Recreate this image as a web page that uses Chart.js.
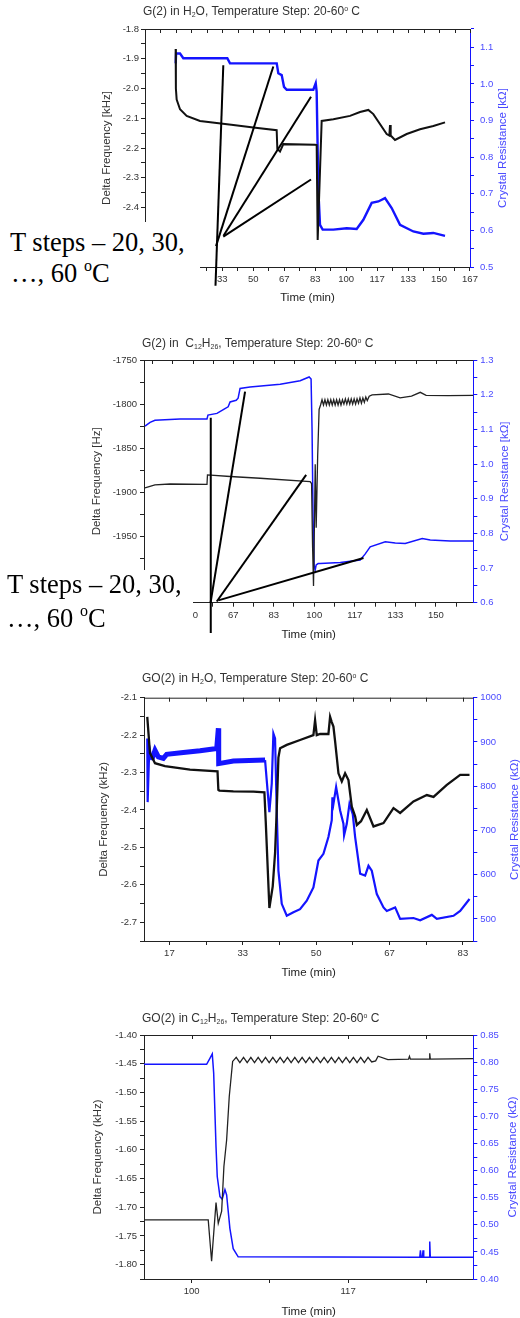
<!DOCTYPE html>
<html>
<head>
<meta charset="utf-8">
<title>QCM temperature steps</title>
<script src="https://cdn.jsdelivr.net/npm/chart.js@4.4.1/dist/chart.umd.min.js"></script>
<style>
  body { margin: 0; background: #fff; }
  #page { position: relative; width: 520px; height: 1318px; overflow: hidden; font-family: "Liberation Sans", Arial, sans-serif; }
  .panel { position: absolute; left: 0; width: 520px; }
  .title { position: absolute; font-size: 12px; line-height: 14px; color: #333; white-space: nowrap; }
  .title sub { font-size: 7px; vertical-align: -2px; line-height: 0; }
  .title sup { font-size: 7px; vertical-align: 4px; line-height: 0; }
  .mask { position: absolute; left: 0; background: #fff; z-index: 2; }
  .note { position: absolute; z-index: 3; font-family: "Liberation Serif", "Times New Roman", serif; font-size: 26.5px; line-height: 26px; color: #000; white-space: nowrap; }
  .note sup { font-size: 16px; vertical-align: 11px; line-height: 0; }
</style>
</head>
<body>
<div id="page">
  <div class="panel" style="top:0;height:320px"><canvas id="g1"></canvas></div>
  <div class="panel" style="top:320px;height:330px"><canvas id="g2"></canvas></div>
  <div class="panel" style="top:650px;height:335px"><canvas id="g3"></canvas></div>
  <div class="panel" style="top:985px;height:333px"><canvas id="g4"></canvas></div>

  <div class="title" style="left:143px;top:4px">G(2) in H<sub>2</sub>O, Temperature Step: 20-60<sup>o</sup> C</div>
  <div class="title" style="left:142px;top:336px">G(2) in &nbsp;C<sub>12</sub>H<sub>26</sub>, Temperature Step: 20-60<sup>o</sup> C</div>
  <div class="title" style="left:142px;top:671px">GO(2) in H<sub>2</sub>O, Temperature Step: 20-60<sup>o</sup> C</div>
  <div class="title" style="left:142px;top:1011px">GO(2) in C<sub>12</sub>H<sub>26</sub>, Temperature Step: 20-60<sup>o</sup> C</div>

  <div class="mask" style="top:222px;width:200px;height:70px"></div>
  <div class="note" style="left:10px;top:229px">T steps – 20, 30,</div>
  <div class="note" style="left:11px;top:260px">…, 60 <sup>o</sup>C</div>

  <div class="mask" style="top:570px;width:193px;height:75px"></div>
  <div class="note" style="left:7px;top:571px">T steps – 20, 30,</div>
  <div class="note" style="left:7px;top:605px">…, 60 <sup>o</sup>C</div>
</div>

<script>
// ---- G(2) in H2O ----
const g1FreqTime = [8.18, 8.3, 8.72, 10.52, 14.11, 21.29, 39.24, 50.01, 62.57, 62.93, 64.37, 66.16, 83.21, 84.11, 84.65, 86.8, 93.08, 102.06, 107.44, 111.93, 114.62, 121.8, 123.24, 123.6, 123.96, 126.3, 132.58, 139.76, 146.93, 153.22];
const g1Freq = [-1.867, -2.0, -2.037, -2.07, -2.092, -2.109, -2.123, -2.131, -2.14, -2.203, -2.212, -2.187, -2.189, -2.19, -2.509, -2.109, -2.103, -2.092, -2.079, -2.072, -2.086, -2.153, -2.158, -2.123, -2.158, -2.173, -2.153, -2.137, -2.126, -2.114];
const g1ResTime = [8.2, 8.4, 10.52, 12.3, 36.0, 37.44, 62.6, 63.45, 65.28, 66.52, 67.98, 82.3, 83.6, 84.1, 84.65, 85.0, 85.9, 87.34, 93.08, 100.27, 105.65, 109.24, 113.73, 117.32, 120.91, 124.5, 128.99, 136.17, 141.55, 146.93, 153.22];
const g1Res = [1.056, 1.083, 1.083, 1.07, 1.07, 1.056, 1.056, 1.029, 1.024, 0.992, 0.984, 0.984, 1.002, 0.979, 0.82, 0.711, 0.615, 0.602, 0.602, 0.606, 0.604, 0.629, 0.675, 0.679, 0.688, 0.661, 0.615, 0.597, 0.591, 0.593, 0.585];
const g1StepTime = [[33.83, 29.63], [60.76, 29.9], [81.06, 33.94], [81.06, 33.83]];
const g1StepFreq = [[-1.922, -2.663], [-1.926, -2.53], [-2.028, -2.495], [-2.306, -2.498]];
const g1TimeTicks = [0, 16.667, 33.333, 50, 66.667, 83.333, 100, 116.667, 133.333, 150, 166.667];
const g1FreqTicks = [-1.8, -1.9, -2.0, -2.1, -2.2, -2.3, -2.4, -2.5, -2.6];
const g1ResTicks = [0.5, 0.6, 0.7, 0.8, 0.9, 1.0, 1.1];

// ---- G(2) in C12H26 ----
const g2FreqTime = [30.4, 34.5, 40.7, 55.9, 56.1, 65.4, 77.7, 98.3, 98.9, 99.3, 99.7, 99.96, 100.4, 100.8, 101.4, 102.0,
  102.6, 103.2, 103.8, 104.4, 105.0, 105.6, 106.2, 106.8, 107.4, 108.0, 108.6, 109.2, 109.8, 110.4, 111.0, 111.6, 112.2,
  112.8, 113.4, 114.0, 114.6, 115.2, 115.8, 116.4, 117.0, 117.6, 118.2, 118.8, 119.4, 120.0, 120.6, 121.2, 121.8,
  122.6, 123.8, 130.5, 135.3, 140.0, 143.6, 146.0, 155.0, 165.4];
const g2Freq = [-1895, -1891.6, -1890.5, -1891, -1880.2, -1882, -1884, -1887.7, -1890, -1960, -2006, -1960, -1868, -1940, -1860, -1806,
  -1801, -1795, -1801, -1795, -1801, -1795, -1801, -1795, -1801, -1795, -1801, -1795, -1801, -1795, -1801, -1795, -1800,
  -1794, -1800, -1794, -1800, -1794, -1800, -1794, -1800, -1794, -1799, -1793, -1799, -1793, -1798, -1792, -1796,
  -1791, -1789.5, -1788.5, -1793, -1791, -1786.6, -1790, -1790.4, -1790];
const g2ResTime = [30.4, 32.5, 34.5, 44.8, 55.9, 56.3, 60.0, 63.3, 64.6, 65.4, 67.9, 68.7, 69.5, 73.6, 86.0, 94.2, 97.9, 98.7, 99.1, 99.5, 99.96, 100.4, 100.8, 101.6, 102.4, 110.7, 118.9, 120.9, 123.0, 129.2, 133.3, 137.4, 144.4, 147.7, 155.9, 165.4];
const g2Res = [1.109, 1.12, 1.126, 1.13, 1.13, 1.141, 1.146, 1.16, 1.165, 1.179, 1.184, 1.19, 1.218, 1.222, 1.23, 1.24, 1.251, 1.245, 1.10, 0.85, 0.708, 0.694, 0.709, 0.713, 0.713, 0.716, 0.723, 0.74, 0.761, 0.776, 0.772, 0.771, 0.785, 0.781, 0.778, 0.778];
const g2StepTime = [[57.45, 57.45], [71.56, 57.37], [96.67, 59.92], [120.25, 60.58]];
const g2StepFreq = [[-1815.3, -2059.3], [-1785.9, -2025], [-1880.2, -2023.6], [-1974.4, -2022.4]];
const g2TimeTicks = [33.333, 50, 66.667, 83.333, 100, 116.667, 133.333, 150];
const g2FreqTicks = [-1750, -1800, -1850, -1900, -1950, -2000];
const g2ResTicks = [0.6, 0.7, 0.8, 0.9, 1.0, 1.1, 1.2, 1.3];

// ---- GO(2) in H2O ----
const g3FreqTime = [11.64, 12.26, 13.4, 15.67, 21.35, 27.6, 27.79, 28.02, 31.2, 35.75, 38.25, 38.55, 39.38, 40.14, 40.67, 41.05, 41.43, 41.81, 43.33, 46.35, 49.38, 49.76, 50.14, 50.9, 52.79, 53.17, 53.55, 53.93, 54.31, 55.07, 55.83, 56.58, 57.34, 58.1, 58.86, 59.24, 60.2, 61.51, 63.03, 65.3, 67.57, 69.08, 72.11, 75.14, 76.66, 79.69, 82.72, 84.84];
const g3Freq = [-2.151, -2.248, -2.275, -2.283, -2.292, -2.297, -2.346, -2.348, -2.35, -2.351, -2.353, -2.43, -2.662, -2.604, -2.515, -2.4, -2.26, -2.235, -2.226, -2.213, -2.2, -2.16, -2.2, -2.197, -2.197, -2.151, -2.165, -2.177, -2.217, -2.302, -2.324, -2.302, -2.32, -2.391, -2.417, -2.44, -2.43, -2.4, -2.444, -2.435, -2.395, -2.408, -2.377, -2.36, -2.365, -2.333, -2.306, -2.306];
const g3ResTime = [11.64, 11.73, 12.11, 12.64, 13.4, 14.16, 15.29, 16.05, 19.84, 23.63, 27.42, 27.79, 27.87, 31.2, 38.4, 38.78, 39.38, 39.92, 40.29, 40.67, 41.05, 41.43, 42.19, 43.33, 44.84, 46.35, 47.87, 49.38, 50.52, 51.66, 52.79, 53.55, 53.7, 53.93, 54.54, 55.45, 56.2, 56.35, 56.96, 57.57, 58.32, 58.86, 60.0, 61.13, 61.89, 62.64, 63.78, 65.3, 66.05, 67.95, 69.08, 72.11, 73.63, 76.28, 77.42, 81.2, 82.72, 84.84];
const g3Res = [908, 764, 889, 859, 881, 866, 863, 872, 876, 880, 885, 931, 851, 857, 859, 813, 741, 806, 919, 908, 745, 609, 534, 507, 515, 522, 541, 571, 632, 647, 685, 723, 775, 760, 798, 745, 715, 689, 715, 760, 737, 685, 602, 598, 620, 609, 556, 526, 518, 526, 500, 502, 497, 509, 500, 507, 518, 545];
const g3TimeTicks = [16.667, 33.333, 50, 66.667, 83.333];
const g3FreqTicks = [-2.1, -2.2, -2.3, -2.4, -2.5, -2.6, -2.7];
const g3ResTicks = [500, 600, 700, 800, 900, 1000];

// ---- GO(2) in C12H26 ----
const g4FreqTime = [94.93, 101.77, 102.13, 102.6, 102.84, 103.2, 103.44, 103.73, 104.01, 104.37,
  104.75, 105.14, 105.53, 105.92, 106.31, 106.7, 107.09, 107.48, 107.87, 108.26, 108.65, 109.04, 109.43, 109.82,
  110.21, 110.6, 110.99, 111.38, 111.77, 112.16, 112.55, 112.94, 113.33, 113.72, 114.11, 114.5, 114.89, 115.28,
  115.67, 116.06, 116.45, 116.84, 117.23, 117.62, 118.01, 118.4, 118.79, 119.18,
  119.6, 119.86, 120.9, 123.1, 123.2, 123.3, 125.3, 125.36, 125.42, 130];
const g4Freq = [-1.722, -1.722, -1.794, -1.692, -1.728, -1.707, -1.629, -1.583, -1.507, -1.446,
  -1.439, -1.448, -1.439, -1.448, -1.439, -1.448, -1.439, -1.448, -1.439, -1.448, -1.439, -1.448, -1.439, -1.448,
  -1.439, -1.448, -1.439, -1.448, -1.439, -1.448, -1.439, -1.448, -1.439, -1.448, -1.439, -1.448, -1.439, -1.448,
  -1.439, -1.448, -1.439, -1.448, -1.439, -1.448, -1.439, -1.448, -1.439, -1.447,
  -1.445, -1.437, -1.443, -1.442, -1.437, -1.442, -1.442, -1.432, -1.442, -1.441];
const g4ResTime = [94.93, 101.6, 101.95, 102.2, 102.35, 102.6, 102.73, 103.02, 103.26, 103.55, 103.73, 104.08, 104.43, 104.96, 124.3, 124.37, 124.44, 124.58, 124.65, 124.72, 125.3, 125.36, 125.42, 130];
const g4Res = [0.796, 0.796, 0.807, 0.815, 0.78, 0.644, 0.589, 0.552, 0.547, 0.565, 0.555, 0.493, 0.456, 0.441, 0.44, 0.453, 0.44, 0.44, 0.453, 0.44, 0.44, 0.469, 0.44, 0.44];
const g4TimeTicks = [100, 116.667];
const g4FreqTicks = [-1.40, -1.45, -1.50, -1.55, -1.60, -1.65, -1.70, -1.75, -1.80];
const g4ResTicks = [0.40, 0.45, 0.50, 0.55, 0.60, 0.65, 0.70, 0.75, 0.80, 0.85];

Chart.defaults.font.family = '"Liberation Sans", Arial, sans-serif';
Chart.defaults.color = '#333';

const BLUE = '#1414ff';
const BLUE_TEXT = '#4a4aff';
const INK = '#222';

const toPoints = (xs, ys) => xs.map((x, i) => ({ x: x, y: ys[i] }));

// majors plus one minor tick halfway between them, kept inside the axis range
function withMinor(majors, min, max) {
  const step = majors.length > 1 ? majors[1] - majors[0] : 1;
  const out = [majors[0] - step / 2];
  majors.forEach((m, i) => {
    out.push(m);
    out.push(i < majors.length - 1 ? (m + majors[i + 1]) / 2 : m + step / 2);
  });
  const lo = Math.min(min, max), hi = Math.max(min, max);
  return out.filter(v => v >= lo - 1e-6 && v <= hi + 1e-6);
}

function lineSet(points, axis, color, width, order) {
  return { data: points, yAxisID: axis, borderColor: color, borderWidth: width,
    pointRadius: 0, tension: 0, fill: false, order: order };
}

function stepLines(times, freqs) {
  return times.map((t, i) => ({ data: toPoints(t, freqs[i]), yAxisID: 'y', borderColor: '#000',
    borderWidth: 2, pointRadius: 0, tension: 0, clip: false, order: 0 }));
}

// right axis title reads bottom-to-top like the left one
const sideTitle = {
  id: 'sideTitle',
  afterDraw(chart, args, opts) {
    const { ctx, chartArea } = chart;
    ctx.save();
    ctx.translate(opts.x, (chartArea.top + chartArea.bottom) / 2);
    ctx.rotate(-Math.PI / 2);
    ctx.font = '11.5px "Liberation Sans", Arial, sans-serif';
    ctx.fillStyle = BLUE_TEXT;
    ctx.textAlign = 'center';
    ctx.textBaseline = 'middle';
    ctx.fillText(opts.text, 0, 0);
    ctx.restore();
  }
};

// closing top edge with inward ticks
const topFrame = {
  id: 'topFrame',
  afterDraw(chart) {
    const { ctx, chartArea: a, scales } = chart;
    ctx.save();
    ctx.strokeStyle = INK;
    ctx.lineWidth = 1;
    ctx.beginPath();
    ctx.moveTo(a.left, a.top + 0.5);
    ctx.lineTo(a.right, a.top + 0.5);
    scales.x.ticks.forEach(t => {
      const px = Math.round(scales.x.getPixelForValue(t.value)) + 0.5;
      ctx.moveTo(px, a.top);
      ctx.lineTo(px, a.top + 4);
    });
    ctx.stroke();
    ctx.restore();
  }
};

function axis(p, s) {
  const isMajor = v => s.majors.some(m => Math.abs(m - v) < 1e-6);
  return {
    type: 'linear',
    position: s.position,
    min: s.min,
    max: s.max,
    bounds: 'data',
    afterBuildTicks: sc => { sc.ticks = withMinor(s.majors, s.min, s.max).map(v => ({ value: v })); },
    afterFit: s.fit,
    ticks: {
      autoSkip: false, maxRotation: 0, padding: s.pad,
      color: s.color, font: { size: 9.5 },
      callback: v => isMajor(v) ? s.fmt(v) : ''
    },
    grid: { drawOnChartArea: false, drawTicks: true, tickLength: 4, tickColor: s.line },
    border: { display: true, color: s.line, width: 1 },
    title: s.title
  };
}

function panel(id, p) {
  return new Chart(document.getElementById(id), {
    type: 'line',
    data: { datasets: p.datasets },
    options: {
      responsive: true,
      maintainAspectRatio: false,
      animation: false,
      events: [],
      layout: { padding: { top: p.area.top, left: 0, right: 0, bottom: 0 } },
      plugins: {
        legend: { display: false },
        tooltip: { enabled: false },
        sideTitle: { text: p.rightTitle, x: p.rightTitleX }
      },
      scales: {
        x: axis(p, {
          position: 'bottom', min: p.x.min, max: p.x.max, majors: p.x.majors,
          fmt: v => String(Math.round(v)), pad: 3, color: '#333', line: INK,
          fit: sc => { sc.height = p.height - p.area.bottom; },
          title: { display: true, text: 'Time (min)', color: '#222', font: { size: 11.5, lineHeight: 1 },
            padding: { top: 0, bottom: p.xTitlePad } }
        }),
        y: axis(p, {
          position: 'left', min: p.y.min, max: p.y.max, majors: p.y.majors,
          fmt: p.y.fmt, pad: p.y.pad, color: '#333', line: INK,
          fit: sc => { sc.width = p.area.left; },
          title: { display: true, text: p.leftTitle, color: '#333', font: { size: 11.5, lineHeight: 1 },
            padding: { top: p.leftTitleX - 5.75, bottom: 0 } }
        }),
        y1: axis(p, {
          position: 'right', min: p.y1.min, max: p.y1.max, majors: p.y1.majors,
          fmt: p.y1.fmt, pad: p.y1.pad, color: BLUE_TEXT, line: BLUE,
          fit: sc => { sc.width = 520 - p.area.right; },
          title: { display: false }
        })
      }
    },
    plugins: [sideTitle, topFrame]
  });
}

panel('g1', {
  height: 320,
  area: { left: 145, right: 470, top: 29, bottom: 267 },
  x: { min: -8.33, max: 166.67, majors: g1TimeTicks },
  y: { min: -2.6, max: -1.8, majors: g1FreqTicks, fmt: v => v.toFixed(1), pad: 2 },
  y1: { min: 0.5, max: 1.15, majors: g1ResTicks, fmt: v => v.toFixed(1), pad: 6 },
  leftTitle: 'Delta Frequency [kHz]', leftTitleX: 107,
  rightTitle: 'Crystal Resistance [kΩ]', rightTitleX: 503,
  xTitlePad: 16,
  datasets: [
    ...stepLines(g1StepTime, g1StepFreq),
    lineSet(toPoints(g1FreqTime, g1Freq), 'y', '#111', 2, 1),
    lineSet(toPoints(g1ResTime, g1Res), 'y1', BLUE, 2.4, 2)
  ]
});

panel('g2', {
  height: 330,
  area: { left: 144, right: 473.3, top: 40, bottom: 282.7 },
  x: { min: 30, max: 165.4, majors: g2TimeTicks },
  y: { min: -2025, max: -1750, majors: g2FreqTicks, fmt: v => v.toFixed(0), pad: 3 },
  y1: { min: 0.6, max: 1.3, majors: g2ResTicks, fmt: v => v.toFixed(1), pad: 3 },
  leftTitle: 'Delta Frequency [Hz]', leftTitleX: 97,
  rightTitle: 'Crystal Resistance [kΩ]', rightTitleX: 505,
  xTitlePad: 9.25,
  datasets: [
    ...stepLines(g2StepTime, g2StepFreq),
    lineSet(toPoints(g2FreqTime, g2Freq), 'y', '#222', 1.3, 1),
    lineSet(toPoints(g2ResTime, g2Res), 'y1', BLUE, 1.5, 2)
  ]
});

const g3Blue = lineSet(toPoints(g3ResTime, g3Res), 'y1', BLUE, 2.2, 2);
g3Blue.segment = { borderWidth: ctx => ctx.p0.parsed.x < 38.4 && ctx.p0.parsed.x > 12.5 ? 5 : 2.2 };

panel('g3', {
  height: 335,
  area: { left: 144, right: 473.3, top: 47.7, bottom: 291 },
  x: { min: 10.9, max: 85.7, majors: g3TimeTicks },
  y: { min: -2.75, max: -2.1, majors: g3FreqTicks, fmt: v => v.toFixed(1), pad: 3 },
  y1: { min: 450, max: 1000, majors: g3ResTicks, fmt: v => v.toFixed(0), pad: 3 },
  leftTitle: 'Delta Frequency (kHz)', leftTitleX: 104,
  rightTitle: 'Crystal Resistance (kΩ)', rightTitleX: 515,
  xTitlePad: 6,
  datasets: [
    lineSet(toPoints(g3FreqTime, g3Freq), 'y', '#111', 2.3, 1),
    g3Blue
  ]
});

panel('g4', {
  height: 333,
  area: { left: 144, right: 473.3, top: 50, bottom: 294 },
  x: { min: 94.93, max: 130, majors: g4TimeTicks },
  y: { min: -1.825, max: -1.40, majors: g4FreqTicks, fmt: v => v.toFixed(2), pad: 3 },
  y1: { min: 0.40, max: 0.85, majors: g4ResTicks, fmt: v => v.toFixed(2), pad: 3 },
  leftTitle: 'Delta Frequency (kHz)', leftTitleX: 98,
  rightTitle: 'Crystal Resistance (kΩ)', rightTitleX: 513,
  xTitlePad: 0.5,
  datasets: [
    lineSet(toPoints(g4FreqTime, g4Freq), 'y', '#222', 1.3, 1),
    lineSet(toPoints(g4ResTime, g4Res), 'y1', BLUE, 1.5, 2)
  ]
});
</script>
</body>
</html>
